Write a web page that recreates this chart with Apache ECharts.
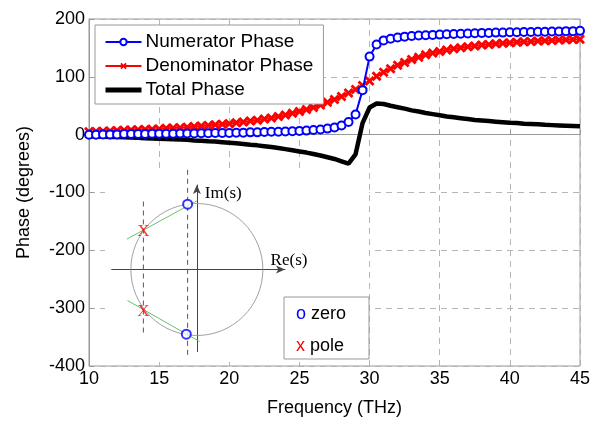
<!DOCTYPE html>
<html><head><meta charset="utf-8">
<script src="https://cdn.jsdelivr.net/npm/echarts@6/dist/echarts.min.js"></script>
<style>html,body{margin:0;padding:0;background:#fff}#c{width:600px;height:424px}</style>
</head><body><div id="c"></div>
<script>
// ---- data ----
const freq = [10,10.5,11,11.5,12,12.5,13,13.5,14,14.5,15,15.5,16,16.5,17,17.5,18,18.5,19,19.5,20,20.5,21,21.5,22,22.5,23,23.5,24,24.5,25,25.5,26,26.5,27,27.5,28,28.5,29,29.5,30,30.5,31,31.5,32,32.5,33,33.5,34,34.5,35,35.5,36,36.5,37,37.5,38,38.5,39,39.5,40,40.5,41,41.5,42,42.5,43,43.5,44,44.5,45];
const numeratorPhase = [0,0,0.5,0.5,0.5,1,1,1,1,1.5,1.5,1.5,1.5,2,2,2,2.5,2.5,3,3,3,3.5,3.5,4,4,4.5,5,5,5.5,6,6.5,7,8,9,10.5,12.5,16,22,35,77,135,156,163,166,168,169.5,170.5,171.5,172,172.5,173,173.5,174,174.5,175,175.5,176,176,176.5,176.5,177,177,177.5,177.5,178,178,178.5,178.5,179,179,179.5];
const denominatorPhase = [5,5.5,6,6.5,7,7.5,8,8.5,9,9.5,10,11,11.5,12,13,14,15,16,17,18,19,20.5,22,23.5,25,27,29,31.5,34,37,40,43.5,47,51.5,56,61,66,72,78,85,93,101,108,114,120,125,130,134,138,141,144,146.5,148.5,150.5,152,153.5,155,156,157,158,159,160,160.5,161,162,162.5,163,163.5,164,164.5,165];
const totalPhase = [-3,-3,-3.5,-4,-4,-4.5,-5,-5.5,-6,-6.5,-7,-7.5,-8,-8.5,-9,-10,-10.5,-11.5,-12,-13,-14,-15,-16,-17.5,-18.5,-20,-21.5,-23,-25,-27,-29,-31,-33.5,-36,-39,-42,-46,-50,-34,20,47,54,53,50,47.5,45,42,40,37.5,35.5,33.5,31.5,30,28.5,27,25.5,24.5,23.5,22.5,21.5,20.5,20,19,18.5,18,17,16.5,16,15.5,15,14.5];
const seriesNames = ['Numerator Phase','Denominator Phase','Total Phase'];
const xTicks = {min:10, max:45, step:5};
const yTicks = {min:-400, max:200, step:100};
// inset pole-zero sketch (s-plane, unit circle)
const zeroRe = [-0.14,-0.16], zeroIm = [0.99,-0.98];
const poleRe = [-0.81,-0.81], poleIm = [0.58,-0.64];
const greenTopRe = [-1.06,0.0], greenTopIm = [0.46,1.04];
const greenBotRe = [-1.05,0.04], greenBotIm = [-0.47,-1.09];
const poleDashRe = [-0.81,-0.81], poleDashIm = [1.03,-1.0];
const zeroDashRe = [-0.14,-0.14], zeroDashIm = [1.51,-1.32];
const insetLabels = ['Re(s)','Im(s)'];
const pzLegend = [['o','zero'],['x','pole']];

const zip = (a,b) => a.map((v,i)=>[v,b[i]]);
const F = 'Liberation Sans, Arial, sans-serif';
const SERIF = 'Liberation Serif, Times New Roman, serif';
const xPath = 'path://M0,2 L2,0 L5,3 L8,0 L10,2 L7,5 L10,8 L8,10 L5,7 L2,10 L0,8 L3,5 Z';

const chart = echarts.init(document.getElementById('c'), null, {renderer:'canvas'});
chart.setOption({
  animation:false,
  backgroundColor:'#fff',
  textStyle:{fontFamily:F},
  grid:[
    {left:89, right:20, top:19, bottom:58, show:true, borderColor:'#999', borderWidth:1, backgroundColor:'transparent'},
    {left:111.7, top:185, width:173.3, height:166.7, show:false}
  ],
  graphic:[
    {type:'rect', z:1, shape:{x:105, y:172, width:264, height:190}, style:{fill:'#fff'}, silent:true},
    {type:'rect', z:20, shape:{x:284, y:297, width:85, height:62}, style:{fill:'#fff', stroke:'#999', lineWidth:1}, silent:true},
    {type:'text', z:21, x:296, y:305, silent:true, style:{text:'{a|'+pzLegend[0][0]+'} '+pzLegend[0][1], font:'18px '+F, fill:'#000', rich:{a:{fill:'#0000ff', font:'18px '+F}}}},
    {type:'text', z:21, x:296, y:337, silent:true, style:{text:'{a|'+pzLegend[1][0]+'} '+pzLegend[1][1], font:'18px '+F, fill:'#000', rich:{a:{fill:'#ff0000', font:'18px '+F}}}}
  ],
  legend:{
    data:[seriesNames[0], seriesNames[1], {name:seriesNames[2], itemStyle:{color:'transparent', borderColor:'transparent', borderWidth:0}, lineStyle:{width:5, color:'#000'}}],
    orient:'vertical', left:95, top:25,
    itemWidth:36, itemHeight:8, itemGap:4, padding:[7,10,4,8],
    backgroundColor:'#fff', borderColor:'#999', borderWidth:1,
    textStyle:{fontSize:19, fontFamily:F, color:'#000', lineHeight:20, padding:[0,0,0,-1]},
    z:10
  },
  xAxis:[
    {gridIndex:0, type:'value', min:xTicks.min, max:xTicks.max, interval:xTicks.step,
     name:'Frequency (THz)', nameLocation:'middle', nameGap:33,
     nameTextStyle:{fontSize:18, color:'#000', fontFamily:F},
     axisLine:{lineStyle:{color:'#999'}},
     axisTick:{inside:true, length:5, lineStyle:{color:'#999'}},
     axisLabel:{fontSize:18, color:'#000', margin:4, fontFamily:F},
     splitLine:{show:true, lineStyle:{color:'#b5b5b5', type:[6,5]}}},
    {gridIndex:1, type:'value', min:-1.29, max:1.335, z:5,
     name:insetLabels[0], nameLocation:'end', nameGap:4,
     nameTextStyle:{fontSize:17, color:'#000', fontFamily:SERIF, align:'center', verticalAlign:'bottom', padding:[0,0,0,0]},
     axisLine:{onZero:true, lineStyle:{color:'#444', width:1}, symbol:['none','arrow'], symbolSize:[6,9]},
     axisTick:{show:false}, axisLabel:{show:false}, splitLine:{show:false}}
  ],
  yAxis:[
    {gridIndex:0, type:'value', min:yTicks.min, max:yTicks.max, interval:yTicks.step,
     name:'Phase (degrees)', nameLocation:'middle', nameGap:56,
     nameTextStyle:{fontSize:18, color:'#000', fontFamily:F},
     axisLine:{lineStyle:{color:'#999'}},
     axisTick:{inside:true, length:5, lineStyle:{color:'#999'}},
     axisLabel:{fontSize:18, color:'#000', margin:4, fontFamily:F},
     splitLine:{show:true, lineStyle:{color:'#b5b5b5', type:[6,5]}}},
    {gridIndex:1, type:'value', min:-1.245, max:1.28, z:5,
     name:insetLabels[1], nameLocation:'end', nameGap:0,
     nameTextStyle:{fontSize:17, color:'#000', fontFamily:SERIF, align:'left', verticalAlign:'top', padding:[0,0,0,8]},
     axisLine:{onZero:true, lineStyle:{color:'#444', width:1}, symbol:['none','arrow'], symbolSize:[6,9]},
     axisTick:{show:false}, axisLabel:{show:false}, splitLine:{show:false}}
  ],
  series:[
    {name:seriesNames[0], type:'line', xAxisIndex:0, yAxisIndex:0, z:4,
     data:zip(freq, numeratorPhase), symbol:'emptyCircle', symbolSize:8, showAllSymbol:true,
     lineStyle:{color:'#0000ff', width:2}, itemStyle:{color:'#0000ff', borderColor:'#0000ff', borderWidth:2}},
    {name:seriesNames[1], type:'line', xAxisIndex:0, yAxisIndex:0, z:3,
     data:zip(freq, denominatorPhase), symbol:xPath, symbolSize:10, showAllSymbol:true,
     lineStyle:{color:'#ff0000', width:2}, itemStyle:{color:'#ff0000'}},
    {name:seriesNames[2], type:'line', xAxisIndex:0, yAxisIndex:0, z:3,
     data:zip(freq, totalPhase), symbol:'none',
     lineStyle:{color:'#000', width:4.5}, itemStyle:{color:'#000'}},
    // inset
    {type:'scatter', xAxisIndex:1, yAxisIndex:1, z:6, silent:true, data:[[0,0]], symbol:'circle', symbolSize:132,
     itemStyle:{color:'transparent', borderColor:'#8a8a8a', borderWidth:1}},
    {type:'line', xAxisIndex:1, yAxisIndex:1, z:6, silent:true, clip:false, data:zip(poleDashRe,poleDashIm), symbol:'none',
     lineStyle:{color:'#555', width:1, type:[5,4]}},
    {type:'line', xAxisIndex:1, yAxisIndex:1, z:6, silent:true, clip:false, data:zip(zeroDashRe,zeroDashIm), symbol:'none',
     lineStyle:{color:'#555', width:1, type:[5,4]}},
    {type:'line', xAxisIndex:1, yAxisIndex:1, z:6, silent:true, clip:false, data:zip(greenTopRe,greenTopIm), symbol:'none',
     lineStyle:{color:'#6cc06c', width:1}},
    {type:'line', xAxisIndex:1, yAxisIndex:1, z:6, silent:true, clip:false, data:zip(greenBotRe,greenBotIm), symbol:'none',
     lineStyle:{color:'#6cc06c', width:1}},
    {type:'scatter', xAxisIndex:1, yAxisIndex:1, z:7, silent:true, data:zip(zeroRe,zeroIm), symbol:'emptyCircle', symbolSize:9,
     itemStyle:{color:'#0000ff', borderColor:'#0000ff', borderWidth:2}},
    {type:'scatter', xAxisIndex:1, yAxisIndex:1, z:7, silent:true, data:zip(poleRe,poleIm), symbolSize:1,
     itemStyle:{color:'transparent'},
     label:{show:true, position:'inside', formatter:'X', color:'#ff0000', fontSize:17, fontFamily:SERIF}}
  ]
});
</script></body></html>
